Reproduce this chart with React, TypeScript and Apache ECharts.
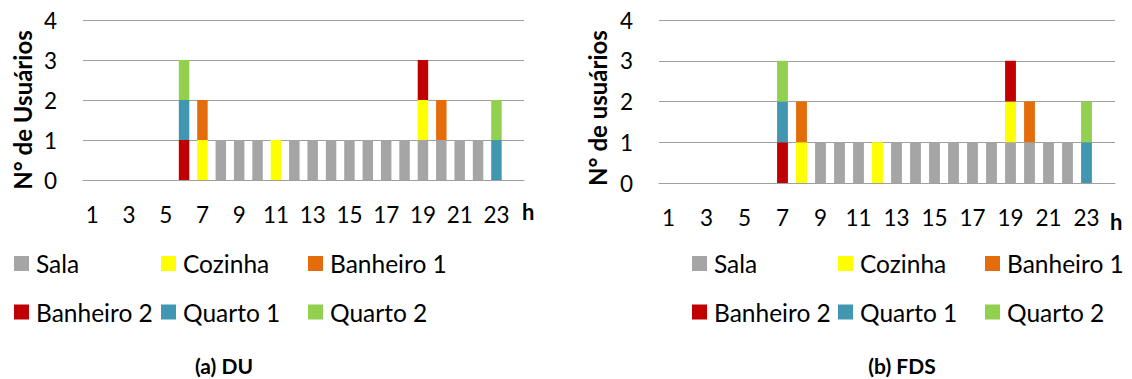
import React, { useEffect, useRef } from "react";
import * as echarts from "echarts";

// Hours of the day (x axis categories)
const hours = [
  "1", "2", "3", "4", "5", "6", "7", "8", "9", "10", "11", "12",
  "13", "14", "15", "16", "17", "18", "19", "20", "21", "22", "23", "24",
];

const rooms = ["Sala", "Cozinha", "Banheiro 1", "Banheiro 2", "Quarto 1", "Quarto 2"];
const roomColors = ["#a5a5a5", "#ffff00", "#e46c0a", "#c00000", "#4197b0", "#92d050"];

// (a) DU – users per room and hour
const duSala =      [0, 0, 0, 0, 0, 0, 0, 1, 1, 1, 0, 1, 1, 1, 1, 1, 1, 1, 1, 1, 1, 1, 0, 0];
const duCozinha =   [0, 0, 0, 0, 0, 0, 1, 0, 0, 0, 1, 0, 0, 0, 0, 0, 0, 0, 1, 0, 0, 0, 0, 0];
const duBanheiro1 = [0, 0, 0, 0, 0, 0, 1, 0, 0, 0, 0, 0, 0, 0, 0, 0, 0, 0, 0, 1, 0, 0, 0, 0];
const duBanheiro2 = [0, 0, 0, 0, 0, 1, 0, 0, 0, 0, 0, 0, 0, 0, 0, 0, 0, 0, 1, 0, 0, 0, 0, 0];
const duQuarto1 =   [0, 0, 0, 0, 0, 1, 0, 0, 0, 0, 0, 0, 0, 0, 0, 0, 0, 0, 0, 0, 0, 0, 1, 0];
const duQuarto2 =   [0, 0, 0, 0, 0, 1, 0, 0, 0, 0, 0, 0, 0, 0, 0, 0, 0, 0, 0, 0, 0, 0, 1, 0];

// (b) FDS – users per room and hour
const fdsSala =      [0, 0, 0, 0, 0, 0, 0, 0, 1, 1, 1, 0, 1, 1, 1, 1, 1, 1, 1, 1, 1, 1, 0, 0];
const fdsCozinha =   [0, 0, 0, 0, 0, 0, 0, 1, 0, 0, 0, 1, 0, 0, 0, 0, 0, 0, 1, 0, 0, 0, 0, 0];
const fdsBanheiro1 = [0, 0, 0, 0, 0, 0, 0, 1, 0, 0, 0, 0, 0, 0, 0, 0, 0, 0, 0, 1, 0, 0, 0, 0];
const fdsBanheiro2 = [0, 0, 0, 0, 0, 0, 1, 0, 0, 0, 0, 0, 0, 0, 0, 0, 0, 0, 1, 0, 0, 0, 0, 0];
const fdsQuarto1 =   [0, 0, 0, 0, 0, 0, 1, 0, 0, 0, 0, 0, 0, 0, 0, 0, 0, 0, 0, 0, 0, 0, 1, 0];
const fdsQuarto2 =   [0, 0, 0, 0, 0, 0, 1, 0, 0, 0, 0, 0, 0, 0, 0, 0, 0, 0, 0, 0, 0, 0, 1, 0];

const duSeries = [duSala, duCozinha, duBanheiro1, duBanheiro2, duQuarto1, duQuarto2];
const fdsSeries = [fdsSala, fdsCozinha, fdsBanheiro1, fdsBanheiro2, fdsQuarto1, fdsQuarto2];

const yTitles = ["N° de Usuários", "N° de usuários"];
const panelTitles = ["(a) DU", "(b) FDS"];

const FONT = "Lato, 'Open Sans', sans-serif";
const GRID_COLOR = "#a0a0a0";

export default function App() {
  const ref = useRef<HTMLDivElement>(null);

  useEffect(() => {
    if (!ref.current) return;
    const chart = echarts.init(ref.current, null, { renderer: "svg" });

    const grids = [
      { left: 83, top: 20, width: 441, height: 160 },
      { left: 659, top: 20, width: 456, height: 163 },
    ];

    const xAxes = grids.map((_, i) => ({
      type: "category",
      gridIndex: i,
      data: hours,
      axisTick: { show: false },
      axisLine: { show: true, lineStyle: { color: GRID_COLOR, width: 1 } },
      axisLabel: {
        interval: 1,
        margin: 23,
        fontSize: 22.5,
        color: "#000",
        fontFamily: FONT,
      },
    }));

    const yAxes = grids.map((_, i) => ({
      type: "value",
      gridIndex: i,
      min: 0,
      max: 4,
      interval: 1,
      axisLine: { show: false },
      axisTick: { show: false },
      splitLine: { show: true, lineStyle: { color: GRID_COLOR, width: 1 } },
      axisLabel: { margin: 26, fontSize: 22.5, color: "#000", fontFamily: FONT },
    }));

    const series: any[] = [];
    [duSeries, fdsSeries].forEach((set, gi) => {
      set.forEach((values, ri) => {
        series.push({
          name: rooms[ri],
          type: "bar",
          xAxisIndex: gi,
          yAxisIndex: gi,
          stack: gi === 0 ? "du" : "fds",
          barWidth: "57%",
          data: values,
          itemStyle: { color: roomColors[ri] },
          emphasis: { disabled: true },
        });
      });
    });

    // One legend entry per cell of the 3 x 2 legend table under each panel
    const legendCols = [
      [14, 161, 308],
      [692, 838, 985],
    ];
    const legendRows = [251, 299.5];
    const legends: any[] = [];
    legendCols.forEach((cols) => {
      rooms.forEach((room, ri) => {
        legends.push({
          data: [room],
          left: cols[ri % 3],
          top: legendRows[Math.floor(ri / 3)],
          padding: 0,
          icon: "rect",
          itemWidth: 15,
          itemHeight: 15,
          selectedMode: false,
          textStyle: {
            fontSize: 24.5,
            color: "#000",
            fontFamily: FONT,
            padding: [0, 0, 0, 2],
          },
        });
      });
    });

    const titleCenters = [
      { x: 22, y: 110 },
      { x: 597, y: 108 },
    ];
    const hPos = [
      { x: 522, y: 211 },
      { x: 1110, y: 221 },
    ];
    const panelCenters = [
      { x: 224, y: 365 },
      { x: 902, y: 365 },
    ];

    const graphic: any[] = [];
    [0, 1].forEach((i) => {
      graphic.push({
        type: "text",
        x: titleCenters[i].x,
        y: titleCenters[i].y,
        rotation: Math.PI / 2,
        style: {
          text: yTitles[i],
          align: "center",
          verticalAlign: "middle",
          font: `bold 24px ${FONT}`,
          fill: "#000",
        },
      });
      graphic.push({
        type: "text",
        x: hPos[i].x,
        y: hPos[i].y,
        style: {
          text: "h",
          align: "left",
          verticalAlign: "middle",
          font: `bold 22px ${FONT}`,
          fill: "#000",
        },
      });
      graphic.push({
        type: "text",
        x: panelCenters[i].x,
        y: panelCenters[i].y,
        style: {
          text: panelTitles[i],
          align: "center",
          verticalAlign: "middle",
          font: `bold 21px ${FONT}`,
          fill: "#000",
        },
      });
    });

    chart.setOption({
      animation: false,
      backgroundColor: "#fff",
      grid: grids,
      xAxis: xAxes,
      yAxis: yAxes,
      legend: legends,
      series,
      graphic,
    });

    return () => chart.dispose();
  }, []);

  return (
    <div
      ref={ref}
      style={{ position: "fixed", left: 0, top: 0, width: 1132, height: 379 }}
    />
  );
}
